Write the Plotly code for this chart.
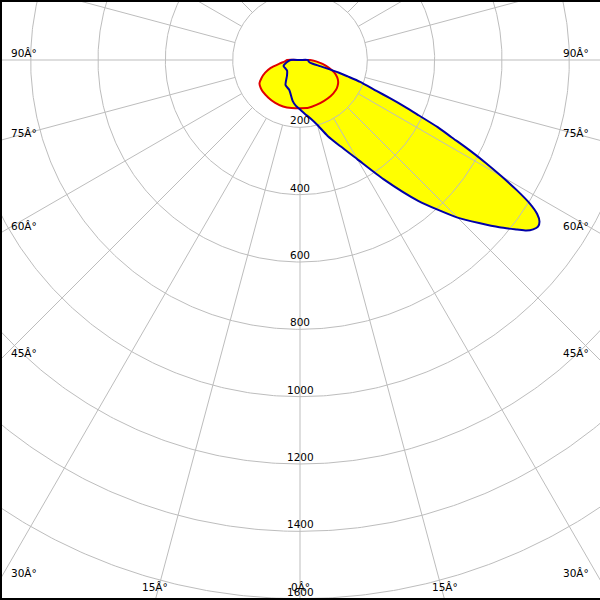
import numpy as np
import plotly.graph_objects as go

# ---- data (gamma angle in degrees, 0 = straight down, +right / -left; intensity) ----
red_angles = [-90, -85, -80, -75, -70, -65, -60, -55, -50, -40, -30, -20, -10, 0,
              10, 20, 30, 40, 50, 55, 60, 65, 70, 75, 80, 85, 90]
red_values = [38, 45, 62, 90, 110, 126, 139, 143, 145, 146, 147, 147, 145, 143,
              144, 142, 141, 141, 139, 136, 131, 122, 108, 88, 68, 48, 30]

blue_angles = [-90, -80, -70, -60, -50, -40, -30, -20, -10, -5, 0, 5, 10, 15, 20, 25,
               30, 35, 40, 45, 50, 52, 53, 54, 55, 56, 57, 58, 59, 60, 61, 62, 63,
               64, 65, 66, 67, 68, 70, 71, 72, 73, 75, 80, 90]
blue_values = [28, 40, 52, 50, 50, 60, 86, 94, 124, 137, 147, 160, 176, 200, 240, 282,
               340, 432, 546, 662, 773, 818, 842, 856, 863, 858, 840, 805, 752, 692,
               632, 570, 505, 455, 390, 340, 290, 245, 190, 150, 120, 65, 32, 26, 24]

ring_values = [200, 400, 600, 800, 1000, 1200, 1400, 1600]
ring_labels = ["200", "400", "600", "800", "1000", "1200", "1400", "1600"]
spoke_step = 15
side_label_angles = [90, 75, 60, 45, 30]
side_labels = ["90Â°", "75Â°", "60Â°", "45Â°", "30Â°"]
bottom_label_angles = [-15, 0, 15]
bottom_labels = ["15Â°", "0Â°", "15Â°"]

# ---- geometry of the picture ----
W, H = 600, 600
CX, CY = 300, 60          # pixel position of the light centre
S = 0.33667               # pixels per cd unit


def to_xy(ang, r):
    a = np.radians(np.asarray(ang, dtype=float))
    r = np.asarray(r, dtype=float)
    return r * np.sin(a), -r * np.cos(a)


def px_to_data(px, py):
    return (px - CX) / S, -(py - CY) / S


fig = go.Figure()

# yellow fills
for ang, val in [(red_angles, red_values), (blue_angles, blue_values)]:
    x, y = to_xy(ang, val)
    fig.add_trace(go.Scatter(x=np.r_[0, x, 0], y=np.r_[0, y, 0], mode="lines",
                             fill="toself", fillcolor="#ffff00",
                             line=dict(width=0, color="#ffff00", shape="spline",
                                       smoothing=0.6),
                             hoverinfo="skip", showlegend=False))

grid = "#bdbdbd"
# rings
t = np.linspace(0, 360, 721)
for rv in ring_values:
    x, y = to_xy(t, np.full_like(t, rv))
    fig.add_trace(go.Scatter(x=x, y=y, mode="lines", line=dict(color=grid, width=1),
                             hoverinfo="skip", showlegend=False))
# spokes
for a in range(0, 360, spoke_step):
    x, y = to_xy([a, a], [ring_values[0], 2200])
    fig.add_trace(go.Scatter(x=x, y=y, mode="lines", line=dict(color=grid, width=1),
                             hoverinfo="skip", showlegend=False))

# curve outlines
for ang, val, col in [(red_angles, red_values, "#e00000"),
                      (blue_angles, blue_values, "#0000a8")]:
    x, y = to_xy(ang, val)
    fig.add_trace(go.Scatter(x=np.r_[0, x, 0], y=np.r_[0, y, 0], mode="lines",
                             line=dict(color=col, width=2, shape="spline",
                                       smoothing=0.6),
                             hoverinfo="skip", showlegend=False))

font = dict(family="DejaVu Sans, Verdana, sans-serif", size=10.5, color="black")
ann = []
for rv, lab in zip(ring_values, ring_labels):
    ann.append(dict(x=0, y=-rv, text=lab, showarrow=False, xanchor="center",
                    yanchor="bottom", yshift=-1, font=font))
for a, lab in zip(side_label_angles, side_labels):
    dy = 0 if a == 90 else 300 / np.tan(np.radians(a))
    py = CY + dy - 7
    xl, yl = px_to_data(9, py)
    xr, _ = px_to_data(591, py)
    ann.append(dict(x=xl, y=yl, text=lab, showarrow=False, xanchor="left",
                    yanchor="middle", font=font))
    ann.append(dict(x=xr, y=yl, text=lab, showarrow=False, xanchor="right",
                    yanchor="middle", font=font))
for a, lab in zip(bottom_label_angles, bottom_labels):
    px = CX + (H - CY) * np.tan(np.radians(a))
    xb, yb = px_to_data(px, 587)
    ann.append(dict(x=xb, y=yb, text=lab, showarrow=False, xanchor="center",
                    yanchor="middle", font=font))

x0, y0 = px_to_data(0, H)
x1, y1 = px_to_data(W, 0)
shapes = [
    dict(type="rect", xref="paper", yref="paper", x0=0, x1=1, y0=1 - 2 / H, y1=1,
         fillcolor="black", line=dict(width=0), layer="above"),
    dict(type="rect", xref="paper", yref="paper", x0=0, x1=2 / W, y0=0, y1=1,
         fillcolor="black", line=dict(width=0), layer="above"),
    dict(type="rect", xref="paper", yref="paper", x0=0, x1=1, y0=0, y1=2 / H,
         fillcolor="black", line=dict(width=0), layer="above"),
]

fig.update_layout(
    width=W, height=H, margin=dict(l=0, r=0, t=0, b=0),
    paper_bgcolor="white", plot_bgcolor="white",
    xaxis=dict(range=[x0, x1], visible=False, fixedrange=True),
    yaxis=dict(range=[y0, y1], visible=False, fixedrange=True),
    annotations=ann, shapes=shapes, showlegend=False,
)

fig.write_html("out.html", config={"displayModeBar": False},
               post_script="document.body.style.margin='0';"
                           "document.body.style.overflow='hidden';")
